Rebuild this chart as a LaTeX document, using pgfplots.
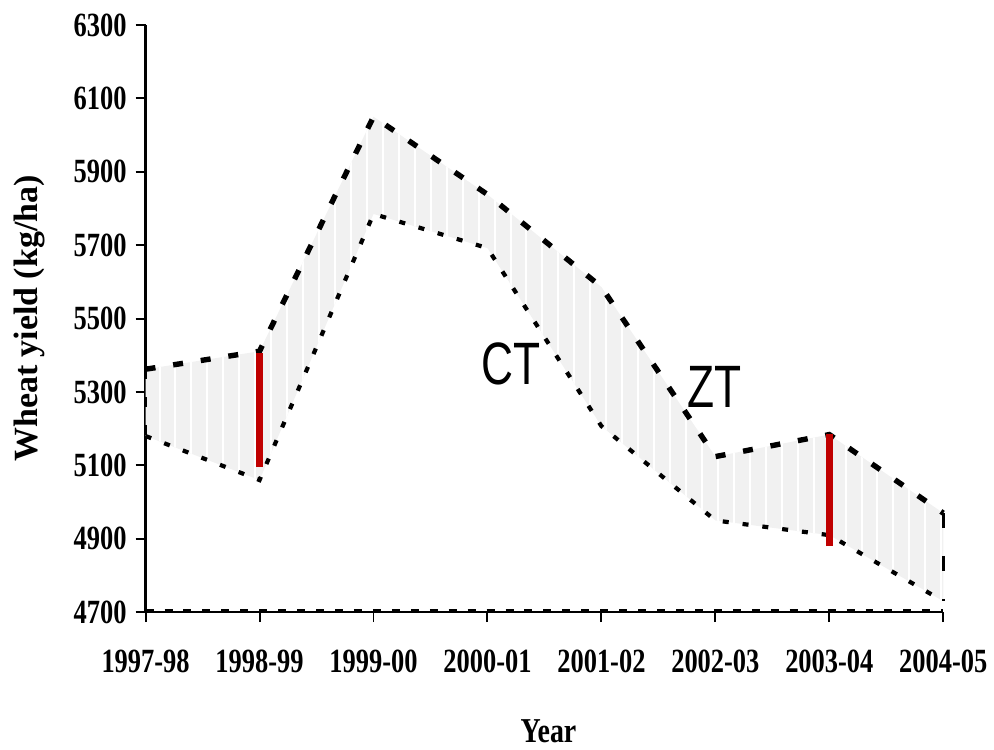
\documentclass[border=0pt]{standalone}
\usepackage{pgfplots}
\pgfplotsset{compat=1.18}
\usepackage{pgfplotstable}
\usepgfplotslibrary{fillbetween}
\usetikzlibrary{patterns.meta}
\usepackage{fontspec}
\setmainfont{Liberation Serif}
\newfontfamily\tickfont[FakeStretch=0.78]{Liberation Serif}
\newfontfamily\labelfont{Liberation Serif}
\newfontfamily\yearfont[FakeStretch=0.8]{Liberation Serif}
\newfontfamily\tagfont[FakeStretch=0.74]{Liberation Sans}
\definecolor{areagray}{HTML}{F1F1F1}
\definecolor{barred}{HTML}{C00000}

% Wheat yield (kg/ha): zero tillage (zt) and conventional tillage (ct)
\pgfplotstableread{
yr zt ct
0 5362 5180
1 5411 5060
2 6050 5785
3 5838 5692
4 5586 5207
5 5124 4950
6 5184 4910
7 4970 4730
}\yields

\begin{document}
\begin{tikzpicture}
\begin{axis}[
  at={(73pt,68pt)}, anchor=south west,
  scale only axis, width=400pt, height=294.5pt,
  xmin=0, xmax=7, ymin=4700, ymax=6300,
  axis x line*=bottom, axis y line*=left,
  axis line style={line width=1.2pt},
  xtick={0,...,7},
  xticklabels={1997-98,1998-99,1999-00,2000-01,2001-02,2002-03,2003-04,2004-05},
  ytick={4700,4900,...,6300},
  tick align=outside, major tick length=5pt,
  tick style={black, line width=1pt},
  /pgf/number format/assume math mode=true,
  /pgf/number format/1000 sep={},
  tick label style={font=\tickfont\bfseries\fontsize{17}{19}\selectfont},
  x tick label style={anchor=base, yshift=-25pt},
  y tick label style={anchor=east, xshift=-1pt},
  xlabel={Year},
  ylabel={Wheat yield (kg/ha)},
  xlabel style={at={(axis description cs:0.505,-0.2224)}, anchor=base,
    font=\yearfont\bfseries\fontsize{17.5}{20}\selectfont},
  ylabel style={at={(axis description cs:-0.146,0.5)}, anchor=center,
    font=\labelfont\bfseries\fontsize{17}{20}\selectfont},
  clip=false,
]
\addplot[draw=none, name path=zt] table[x=yr, y=zt]{\yields};
\addplot[draw=none, name path=ct] table[x=yr, y=ct]{\yields};
% shaded band between the two treatments, with thin white stripes
\addplot[fill=areagray, draw=none] fill between[of=zt and ct];
\addplot[draw=none, pattern={Lines[angle=90, distance=8pt, line width=1pt]},
  pattern color=white] fill between[of=zt and ct];
% treatment lines
\addplot[black, line width=2.7pt, dash pattern=on 5pt off 9pt] table[x=yr, y=zt]{\yields};
\addplot[black, line width=2.1pt, dash pattern=on 3pt off 7pt] table[x=yr, y=ct]{\yields};
% dashed outline of the area
\addplot[black, line width=1.8pt, dash pattern=on 5pt off 9pt] coordinates {(0,5362) (0,4700)};
\addplot[black, line width=2pt, dash pattern=on 4pt off 5.5pt] coordinates {(0,4702) (7,4702)};
\addplot[black, line width=1.3pt, dash pattern=on 7.5pt off 14pt] coordinates {(7,4970) (7,4730)};
% LSD bars
\addplot[barred, line width=3.6pt] coordinates {(1,5095) (1,5405)};
\addplot[barred, line width=3.6pt] coordinates {(6,4880) (6,5185)};
\node[font=\tagfont\fontsize{30}{32}\selectfont, inner sep=0pt] at (axis cs:3.21,5377) {CT};
\node[font=\tagfont\fontsize{30}{32}\selectfont, inner sep=0pt] at (axis cs:4.99,5314) {ZT};
\end{axis}
\path (0,0) rectangle (497pt,375pt);
\end{tikzpicture}
\end{document}
